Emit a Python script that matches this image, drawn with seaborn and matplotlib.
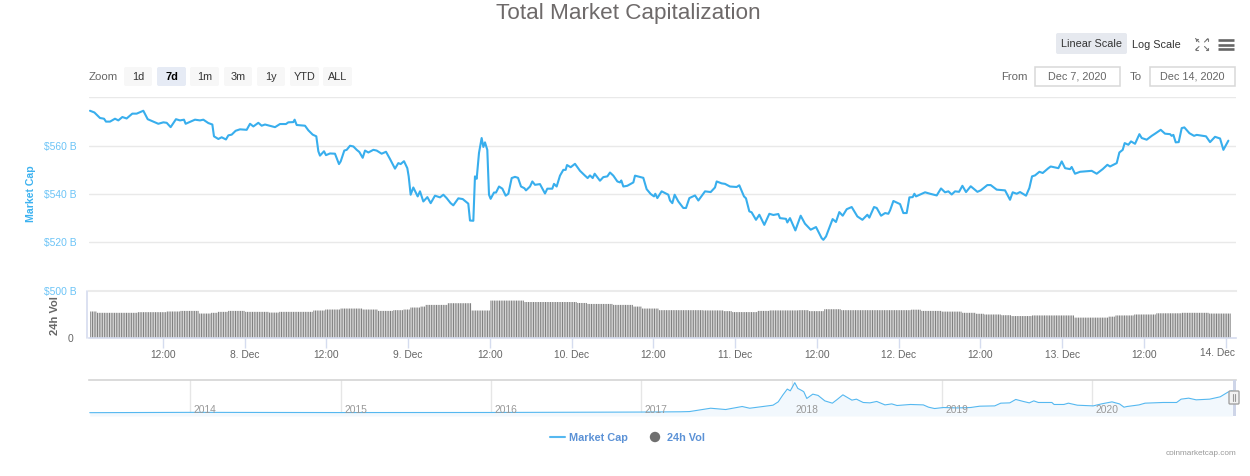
import numpy as np
import matplotlib
matplotlib.use("Agg")
import matplotlib.pyplot as plt
from matplotlib.patches import FancyBboxPatch, Rectangle, Circle
import seaborn as sns

# Market cap, hours since 7 Dec 00:00 and $ B
cap_hours = [
    1.29, 1.93, 2.76, 3.35, 3.64, 4.23, 4.96, 5.45, 6.04, 6.67, 7.5, 8.14, 9.12, 9.76, 10.59, 11.32,
    12.06, 12.55, 13.13, 13.91, 14.5, 15.09, 15.33, 16.21, 16.7, 17.44, 17.93, 18.66, 19.25, 19.49,
    20.13, 20.62, 21.25, 21.6, 22.09, 22.67, 23.31, 24.29, 24.78, 25.27, 26.0, 26.49, 26.98, 28.45,
    29.18, 30.06, 30.4, 31.14, 31.33, 31.63, 32.85, 33.34, 33.98, 34.51, 34.81, 35.05, 35.64, 35.93,
    36.52, 37.25, 37.84, 38.09, 38.62, 38.97, 39.46, 39.95, 40.44, 40.83, 41.32, 41.66, 42.15, 42.88,
    43.37, 44.1, 44.74, 45.33, 46.06, 46.55, 46.89, 47.38, 47.87, 48.07, 48.36, 48.75, 49.39, 49.73,
    50.22, 50.81, 51.3, 51.93, 52.67, 53.16, 53.64, 54.23, 54.62, 55.36, 56.0, 56.82, 57.07, 57.56,
    57.8, 58.05, 58.39, 58.78, 59.03, 59.27, 59.61, 59.86, 60.1, 60.59, 60.89, 61.33, 61.82, 62.31,
    62.7, 63.19, 63.67, 64.12, 64.56, 65.05, 65.29, 65.88, 66.22, 66.61, 67.34, 68.08, 68.42, 69.15,
    69.4, 69.79, 70.28, 70.77, 71.11, 71.31, 71.85, 72.48, 73.22, 73.95, 74.34, 74.68, 75.08, 75.37,
    76.15, 76.64, 77.23, 77.62, 78.11, 78.7, 79.09, 79.28, 79.58, 80.16, 81.05, 81.29, 82.51, 83.0,
    83.59, 84.08, 84.27, 84.57, 85.2, 86.18, 86.43, 86.77, 87.11, 87.65, 88.38, 88.78, 89.27, 90.1,
    90.59, 91.57, 92.4, 93.03, 93.28, 94.01, 94.5, 95.23, 96.21, 96.6, 97.29, 97.58, 98.07, 98.41,
    99.05, 99.54, 100.27, 101.01, 101.6, 102.33, 102.57, 103.45, 103.65, 104.04, 104.83, 105.61,
    106.24, 107.08, 107.86, 108.69, 108.94, 109.33, 110.3, 110.79, 111.28, 111.78, 112.37, 113.1,
    113.93, 114.67, 115.4, 115.69, 116.38, 116.77, 117.41, 118.0, 118.48, 118.73, 119.22, 120.2,
    120.68, 121.17, 121.57, 122.05, 122.3, 122.54, 123.87, 124.6, 125.58, 126.21, 126.8, 127.29,
    127.78, 128.27, 128.86, 129.35, 129.88, 130.57, 131.55, 132.04, 133.01, 133.5, 134.38, 135.61,
    136.34, 136.73, 137.32, 137.81, 138.69, 139.18, 139.57, 140.01, 140.65, 141.14, 141.97, 142.31,
    143.44, 143.93, 144.42, 145.15, 145.39, 145.88, 146.62, 148.33, 149.06, 149.94, 150.63, 151.02,
    152.0, 152.39, 152.88, 153.17, 153.71, 154.1, 154.69, 155.33, 155.67, 156.4, 157.14, 157.63,
    158.46, 159.09, 159.83, 160.07, 160.32, 160.66, 161.1, 161.54, 161.93, 162.67, 163.35, 163.74,
    165.11, 165.7, 166.43, 167.17, 167.66, 168.39,
]
cap_values = [
    574.5, 573.8, 571.5, 571.2, 570.0, 570.0, 571.2, 570.5, 571.9, 571.3, 573.3, 573.3, 574.5, 571.0, 570.0, 569.1,
    569.7, 569.5, 567.7, 571.0, 570.5, 570.8, 569.1, 570.2, 570.8, 570.5, 570.8, 569.4, 568.8, 563.9,
    562.8, 563.5, 562.6, 564.3, 564.6, 566.2, 566.8, 566.6, 569.1, 568.0, 569.5, 568.3, 568.8, 567.7,
    569.0, 569.0, 569.7, 569.8, 570.8, 568.6, 568.3, 566.4, 564.6, 563.9, 557.7, 555.9, 557.7, 556.1,
    556.8, 556.7, 552.4, 553.5, 558.0, 558.3, 560.0, 559.7, 558.3, 557.4, 555.0, 558.0, 557.2, 558.3,
    558.0, 556.7, 557.5, 554.5, 550.5, 552.8, 552.4, 553.6, 550.7, 547.3, 539.7, 542.7, 539.0, 541.1,
    536.9, 538.7, 536.2, 539.3, 538.6, 539.7, 538.3, 536.2, 535.3, 538.2, 537.9, 536.0, 529.0, 528.9,
    547.3, 546.3, 557.0, 563.2, 559.5, 561.4, 558.3, 539.7, 538.0, 540.6, 540.6, 543.1, 542.2, 539.3,
    540.1, 546.6, 547.1, 546.7, 543.1, 542.4, 541.5, 543.1, 545.2, 543.8, 544.1, 540.2, 542.2, 542.2,
    544.2, 543.1, 547.6, 550.0, 550.0, 552.0, 551.1, 552.5, 549.6, 547.6, 546.6, 547.7, 546.6, 548.4,
    545.5, 547.0, 547.3, 548.9, 547.6, 545.2, 544.8, 545.6, 543.1, 543.4, 544.8, 547.6, 546.7, 542.0,
    540.0, 539.0, 540.1, 538.3, 541.1, 539.7, 537.3, 536.2, 539.7, 536.9, 534.2, 534.2, 538.3, 539.4,
    537.3, 541.1, 540.8, 542.7, 545.2, 544.4, 544.2, 543.1, 542.9, 543.6, 539.0, 538.2, 532.8, 532.4,
    529.3, 531.4, 527.2, 531.8, 531.3, 531.7, 530.0, 529.7, 528.2, 530.0, 524.9, 531.0,
    527.7, 525.2, 526.3, 521.7, 521.0, 522.4, 529.6, 528.4, 532.5, 531.0, 533.7, 534.6,
    530.7, 529.3, 531.4, 530.2, 534.6, 534.2, 531.0, 532.1, 531.8, 533.2, 537.1, 535.8,
    532.1, 532.1, 538.6, 538.7, 540.1, 539.0, 540.7, 540.1, 539.4, 542.3, 540.7, 541.1,
    539.8, 541.1, 540.9, 543.4, 540.8, 543.2, 540.9, 541.5, 543.7, 543.7, 541.8, 541.5,
    537.6, 540.7, 540.1, 540.8, 539.3, 542.5, 547.3, 547.7, 549.2, 548.7, 550.7, 551.4,
    550.7, 553.5, 550.7, 550.3, 551.2, 548.4, 549.2, 549.6, 548.4, 550.3, 552.1, 551.4,
    552.8, 557.2, 558.3, 561.1, 560.4, 561.8, 560.8, 564.8, 563.2, 562.5, 564.1, 565.0,
    566.6, 565.0, 564.8, 564.1, 564.5, 561.4, 561.5, 567.3, 567.6, 565.2, 564.1, 564.5,
    563.9, 561.5, 563.7, 563.0, 558.3, 562.1,
]

# 24h volume moves in plateaus: level in $ B and how many 15 min samples it holds
vol_levels = [
    110.5, 105, 107.7, 110.5, 113, 102, 105, 109, 113, 109, 106, 109, 114.6, 118.7, 122.8, 118.7,
    113, 116, 118.7, 127, 131, 138, 145, 114.6, 156, 150, 146, 142, 138, 131, 122.8, 116, 115, 112,
    108, 113, 115, 116, 112, 120, 116, 118, 113, 110, 105, 101, 98, 95, 91.5, 94, 85, 89, 94, 98,
    103, 105, 102,
]
vol_samples = [
    4, 24, 17, 8, 11, 7, 4, 6, 10, 14, 6, 20, 7, 9, 13, 9,
    9, 6, 4, 6, 3, 13, 14, 11, 20, 31, 6, 15, 12, 5, 10, 26, 12, 5,
    15, 7, 17, 6, 9, 10, 41, 6, 12, 12, 8, 5, 10, 6, 12, 25, 20, 4, 11, 13,
    15, 16, 13,
]
vol_first_hour = 1.4
vol_step_hours = 0.25

# Navigator, whole history
nav_years = [
    2013.33, 2014.0, 2015.0, 2016.0, 2017.0, 2017.26, 2017.32, 2017.46, 2017.56, 2017.67, 2017.72,
    2017.875, 2017.91, 2017.94, 2017.97, 2017.99, 2018.02, 2018.04, 2018.07, 2018.08, 2018.10, 2018.14,
    2018.175, 2018.22, 2018.27, 2018.30, 2018.34, 2018.40, 2018.43, 2018.475, 2018.52, 2018.565, 2018.62,
    2018.665, 2018.70, 2018.79, 2018.875, 2018.91, 2018.95, 2019.01, 2019.10, 2019.19, 2019.25, 2019.35,
    2019.39, 2019.45, 2019.49, 2019.54, 2019.58, 2019.61, 2019.64, 2019.73, 2019.745, 2019.81, 2019.84,
    2019.90, 2020.005, 2020.06, 2020.13, 2020.18, 2020.21, 2020.23, 2020.31, 2020.35, 2020.47, 2020.56,
    2020.59, 2020.64, 2020.69, 2020.78, 2020.85, 2020.905, 2020.93,
]
nav_values = [
    2, 10, 5, 7, 18, 25, 31, 118, 84, 163, 118,
    197, 285, 460, 618, 573, 785, 636, 573, 547, 373, 486,
    452, 310, 250, 340, 468, 329, 355, 268, 258, 295, 205,
    231, 189, 216, 205, 145, 110, 137, 126, 137, 171, 179,
    250, 258, 347, 295, 258, 310, 268, 268, 216, 216, 250,
    197, 179, 231, 284, 231, 145, 163, 205, 250, 268, 268,
    355, 381, 337, 355, 416, 547, 573,
]

x_tick_hours = [12, 24, 36, 48, 60, 72, 84, 96, 108, 120, 132, 144, 156]
x_tick_labels = ["12:00", "8. Dec", "12:00", "9. Dec", "12:00", "10. Dec", "12:00",
                 "11. Dec", "12:00", "12. Dec", "12:00", "13. Dec", "12:00"]
cap_ticks = [500, 520, 540, 560, 580]
cap_tick_labels = ["$500 B", "$520 B", "$540 B", "$560 B", ""]
year_ticks = [2014, 2015, 2016, 2017, 2018, 2019, 2020]

W, H = 1250, 476
BLUE = "#38aeed"
LAVENDER = "#d5dcef"

sns.set_style("white")
plt.rcParams['font.family'] = ['Liberation Sans', 'DejaVu Sans']
plt.rcParams['font.size'] = 7.4

fig = plt.figure(figsize=(W / 100, H / 100), dpi=100)


def px_axes(x0, y0, x1, y1):
    return fig.add_axes([x0 / W, 1 - y1 / H, (x1 - x0) / W, (y1 - y0) / H])


# %% Main line
ax = px_axes(89, 97, 1236, 290.5)
sns.lineplot(x=cap_hours, y=cap_values, color=BLUE, linewidth=1.5, sort=False, errorbar=None, ax=ax)
ax.lines[0].set_solid_joinstyle("round")
ax.set_xlim(1.145, 169.51)
ax.set_ylim(500, 580.2)
ax.set_yticks(cap_ticks)
ax.set_yticklabels(cap_tick_labels, color="#6cc4f7")
ax.set_xticks([])
ax.tick_params(axis="y", length=0, pad=9.2)
ax.grid(True, axis="y", color="#e9e9e9", linewidth=1)
ax.patch.set_alpha(0)
sns.despine(ax=ax, left=True, bottom=True)

# %% Volume bars
vol_values = np.repeat(vol_levels, vol_samples)
vol_hours = vol_first_hour + vol_step_hours * np.arange(len(vol_values))
ax_vol = px_axes(89, 290.5, 1236, 338)
sns.barplot(x=vol_hours, y=vol_values, native_scale=True, color="#808080", saturation=1,
            width=0.62, errorbar=None, ax=ax_vol)
# bars are thinner than 2 px, snapping would drop most of them
for bar in ax_vol.patches:
    bar.set_snap(False)
    bar.set_linewidth(0)
ax_vol.set_xlim(1.145, 169.51)
ax_vol.set_ylim(0, 198)
ax_vol.set_yticks([0])
ax_vol.set_yticklabels(["0"], color="#666666")
ax_vol.set_xticks(x_tick_hours + [168])
ax_vol.set_xticklabels(x_tick_labels + [""], color="#666666")
ax_vol.set_xlabel("")
ax_vol.set_ylabel("")
ax_vol.tick_params(axis="x", length=7, width=1, color=LAVENDER, pad=2, bottom=True)
ax_vol.tick_params(axis="y", length=0, pad=11)
ax_vol.patch.set_alpha(0)
for side in ["left", "right"]:
    ax_vol.spines[side].set_visible(False)
ax_vol.spines["top"].set_color("#ebebeb")
ax_vol.spines["top"].set_linewidth(1.5)
ax_vol.spines["bottom"].set_color(LAVENDER)
ax_vol.spines["bottom"].set_linewidth(1.2)

# %% Navigator
ax_nav = px_axes(89, 380, 1236, 416)
ax_nav.fill_between(nav_years, nav_values, -85, color="#f2f8fd", linewidth=0)
sns.lineplot(x=nav_years, y=nav_values, color="#55b8f0", linewidth=0.8, sort=False, errorbar=None, ax=ax_nav)
ax_nav.set_xlim(2013.325, 2020.955)
ax_nav.set_ylim(-85, 855)
ax_nav.set_xticks(year_ticks)
ax_nav.set_yticks([])
ax_nav.set_xticklabels([])
ax_nav.tick_params(axis="x", length=0)
ax_nav.grid(True, axis="x", color="#e6e6e6", linewidth=1)
ax_nav.set_axisbelow(True)
ax_nav.patch.set_alpha(0)
for side in ["left", "right", "bottom"]:
    ax_nav.spines[side].set_visible(False)
ax_nav.spines["top"].set_color("#d4d4d4")
ax_nav.spines["top"].set_linewidth(1.2)
for year in year_ticks:
    ax_nav.annotate(str(year), (year, 0), xytext=(2.5, -1.5), textcoords="offset points",
                    color="#999999", fontsize=7.4, va="bottom", zorder=5)

# %% Page furniture, in pixels
ui = fig.add_axes([0, 0, 1, 1], zorder=10)
ui.set_xlim(0, W)
ui.set_ylim(H, 0)
ui.axis("off")


def button(x0, x1, y0, y1, label, face, color="#333333", weight="normal"):
    ui.add_patch(FancyBboxPatch((x0 + 1, y0 + 1), x1 - x0 - 2, y1 - y0 - 2, boxstyle="round,pad=1,rounding_size=2",
                                facecolor=face, edgecolor="none"))
    ui.text((x0 + x1) / 2, (y0 + y1) / 2 + 0.5, label, ha="center", va="center", color=color,
            fontsize=7.8, fontweight=weight)


def date_box(x0, x1, label):
    ui.add_patch(Rectangle((x0, 67), x1 - x0, 19, facecolor="white", edgecolor="#d8d8d8", linewidth=1.1))
    ui.text((x0 + x1) / 2, 76.5, label, ha="center", va="center", color="#666666", fontsize=7.8)


ui.text(628.5, 14, "Total Market Capitalization", ha="center", va="center", color="#6e6a6a", fontsize=16.2)

ui.text(89, 77.5, "Zoom", ha="left", va="center", color="#666666", fontsize=8.2)
range_buttons = [(124, 152, "1d"), (157, 186, "7d"), (190, 219, "1m"), (224, 252, "3m"),
                 (257, 285, "1y"), (290, 319, "YTD"), (323, 352, "ALL")]
for x0, x1, label in range_buttons:
    if label == "7d":
        button(x0, x1, 67, 86, label, "#e6ebf5", color="#000000", weight="bold")
    else:
        button(x0, x1, 67, 86, label, "#f7f7f7")

button(1056, 1127, 33, 54, "Linear Scale", "#e6e9ef")
ui.text(1156.5, 45, "Log Scale", ha="center", va="center", color="#333333", fontsize=7.8)

# fullscreen corners
for cx, cy, dx, dy in [(1195.5, 38.5, 1, 1), (1208, 38.5, -1, 1), (1195.5, 50, 1, -1), (1208, 50, -1, -1)]:
    ui.plot([cx, cx + 3.5 * dx], [cy, cy + 3.5 * dy], color="#777777", lw=0.8)
    ui.plot([cx, cx + 2.5 * dx], [cy, cy], color="#777777", lw=0.8)
    ui.plot([cx, cx], [cy, cy + 2.5 * dy], color="#777777", lw=0.8)
# burger menu
for y in [39.5, 44.5, 49]:
    ui.plot([1218, 1234], [y, y], color="#666666", lw=1.9, solid_capstyle="butt")

ui.text(1001, 76.5, "From", ha="left", va="center", color="#666666", fontsize=8.2)
ui.text(1130, 76.5, "To", ha="left", va="center", color="#666666", fontsize=8.2)
date_box(1034.5, 1119.5, "Dec 7, 2020")
date_box(1150, 1235, "Dec 14, 2020")

ui.text(31, 193.5, "Market Cap", rotation=90, ha="center", va="center", color="#3cb2f0",
        fontsize=7.6, fontweight="bold")
ui.text(55, 315.5, "24h Vol", rotation=90, ha="center", va="center", color="#666666",
        fontsize=8, fontweight="bold")
ui.plot([87.3, 87.3], [290.5, 338], color=LAVENDER, lw=1.2)
ui.text(1218, 353, "14. Dec", ha="center", va="center", color="#666666", fontsize=7.4)

# navigator handle
ui.add_patch(Rectangle((1232.5, 380), 3, 36, facecolor="#ced5e8", edgecolor="none"))
ui.add_patch(FancyBboxPatch((1230, 392), 8, 11, boxstyle="round,pad=1,rounding_size=1",
                            facecolor="#f2f2f2", edgecolor="#a3a3a3", linewidth=1))
ui.plot([1233, 1233], [394, 401], color="#999999", lw=0.8)
ui.plot([1235, 1235], [394, 401], color="#999999", lw=0.8)

# legend
ui.plot([550, 565], [437, 437], color="#55b8f0", lw=1.5)
ui.text(569, 438, "Market Cap", ha="left", va="center", color="#5c92d6", fontsize=7.8, fontweight="bold")
ui.add_patch(Circle((655, 437), 5.2, facecolor="#6f6f6f", edgecolor="none"))
ui.text(667, 438, "24h Vol", ha="left", va="center", color="#5c92d6", fontsize=7.8, fontweight="bold")

ui.text(1236, 453.5, "coinmarketcap.com", ha="right", va="center", color="#999999", fontsize=5.85)

fig.savefig("out.png", dpi=100)
